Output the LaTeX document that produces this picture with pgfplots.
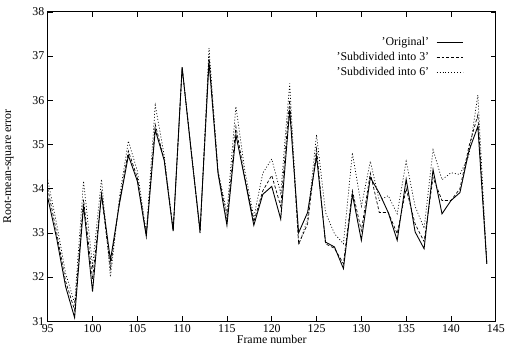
\documentclass[border=0pt]{standalone}
\usepackage{fontspec}
\setmainfont{Liberation Serif}
\usepackage{pgfplots}
\pgfplotsset{compat=1.18}
\pgfplotstableread{
x orig sub3 sub6
95 33.80 34.00 34.20
96 32.87 33.00 33.20
97 31.78 31.90 32.08
98 31.08 31.25 31.41
99 33.62 33.75 34.17
100 31.67 31.95 32.25
101 33.88 33.85 34.21
102 32.38 32.20 32.00
103 33.65 33.70 33.80
104 34.75 34.85 35.08
105 34.17 34.25 34.40
106 32.92 32.95 33.00
107 35.33 35.45 35.89
108 34.64 34.65 34.75
109 33.04 33.05 33.05
110 36.75 36.75 36.70
111 34.85 34.90 34.90
112 33.05 33.00 32.98
113 36.87 37.00 37.18
114 34.35 34.40 34.40
115 33.17 33.30 33.46
116 35.22 35.40 35.86
117 34.21 34.25 34.40
118 33.17 33.25 33.35
119 33.87 33.95 34.35
120 34.05 34.30 34.67
121 33.31 33.60 33.90
122 35.78 36.00 36.38
123 33.00 32.75 32.72
124 33.46 33.20 33.30
125 34.73 34.90 35.22
126 32.79 32.75 33.46
127 32.68 32.65 32.98
128 32.19 32.30 32.75
129 33.87 33.95 34.81
130 32.83 33.05 33.60
131 34.25 34.35 34.62
132 33.90 33.46 33.73
133 33.46 33.46 33.84
134 32.83 32.98 33.43
135 34.21 34.00 34.62
136 33.02 33.20 33.60
137 32.64 32.80 33.10
138 34.43 34.25 34.88
139 33.43 33.73 34.20
140 33.73 33.73 34.36
141 33.91 34.00 34.32
142 34.85 34.95 34.75
143 35.41 35.67 36.12
144 32.30 32.30 32.30
}\datatable
\begin{document}
\begin{tikzpicture}
\begin{axis}[
  name=main,
  scale only axis, width=452pt, height=312pt,
  xmin=95, xmax=145, ymin=31, ymax=38,
  xtick={95,100,...,145}, ytick={31,32,...,38},
  tick align=inside, major tick length=5pt,
  xtick pos=both, ytick pos=both,
  xticklabel pos=bottom, yticklabel pos=left,
  /pgf/number format/assume math mode=true,
  /pgf/number format/1000 sep={},
  font=\fontsize{12}{14}\selectfont,
  tick label style={font=\fontsize{12}{14}\selectfont},
  label style={font=\fontsize{12}{14}\selectfont},
  xlabel={Frame number}, ylabel={Root-mean-square error},
  xlabel style={yshift=4pt},
  ylabel style={yshift=12pt},
  axis line style={line width=0.9pt},
  every tick/.style={black, line width=0.6pt},
  legend cell align=right, legend plot pos=right,
  legend image code/.code={\path (0pt,0pt); \draw[#1] (5pt,0pt) -- (32pt,0pt);},
  legend style={at={(axis description cs:0.929,0.925)}, anchor=north east,
    draw=none, fill=none, font=\fontsize{12}{14}\selectfont,
    row sep=1.5pt, inner sep=0pt, nodes={inner sep=2pt}},
]
\addplot[black, line width=0.9pt] table[x=x, y=orig] {\datatable};
\addlegendentry{'Original'}
\addplot[black, line width=0.7pt, dash pattern=on 3pt off 2pt] table[x=x, y=sub3] {\datatable};
\addlegendentry{'Subdivided into 3'}
\addplot[black, line width=0.7pt, dash pattern=on 1pt off 2pt] table[x=x, y=sub6] {\datatable};
\addlegendentry{'Subdivided into 6'}
\end{axis}
\path (main.north west) ++(0,12pt);
\end{tikzpicture}
\end{document}
